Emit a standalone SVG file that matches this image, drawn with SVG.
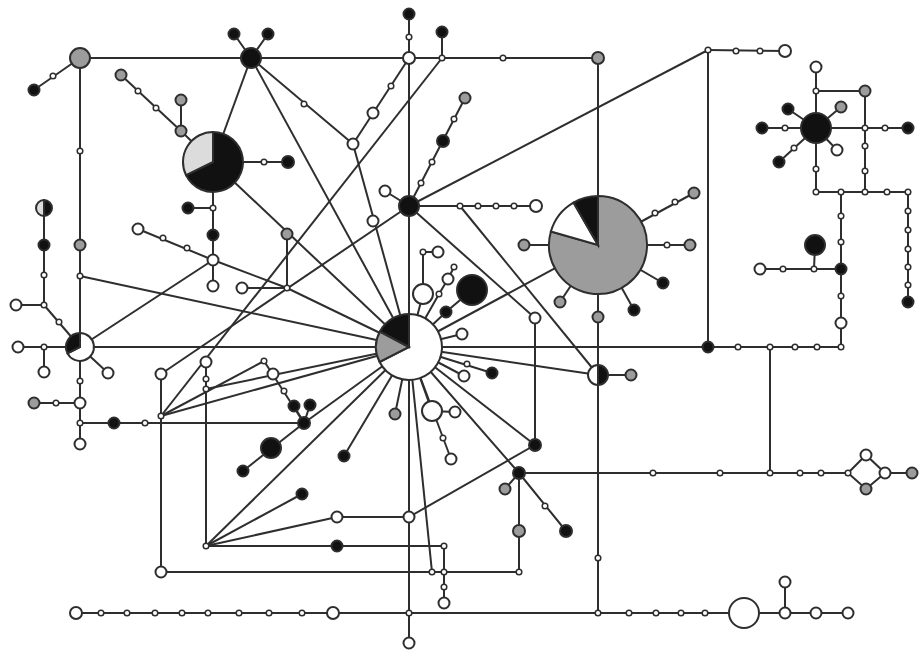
<svg xmlns="http://www.w3.org/2000/svg" width="924" height="651" viewBox="0 0 924 651">
<style>
  .e { stroke:#2e2e2e; stroke-width:2; fill:none; }
  .n { stroke:#2e2e2e; stroke-width:2; }
  .s { fill:#fff; stroke:#2e2e2e; stroke-width:1.5; }
  .w { fill:#fff; }
  .b { fill:#111; }
  .g { fill:#9c9c9c; }
  .l { fill:#dcdcdc; }
</style>
<rect width="924" height="651" fill="#fff"/>
<g id="connectors" class="e">
  <line x1="80" y1="58" x2="34" y2="90"/>
  <line x1="80" y1="58" x2="598" y2="58"/>
  <line x1="80" y1="58" x2="80" y2="444"/>
  <line x1="44" y1="208" x2="44" y2="305"/>
  <line x1="16" y1="305" x2="44" y2="305"/>
  <line x1="44" y1="305" x2="80" y2="347"/>
  <line x1="18" y1="347" x2="841" y2="347"/>
  <line x1="44" y1="347" x2="44" y2="372"/>
  <line x1="80" y1="347" x2="108" y2="373"/>
  <line x1="80" y1="347" x2="213" y2="260"/>
  <line x1="80" y1="276" x2="409" y2="347"/>
  <line x1="34" y1="403" x2="80" y2="403"/>
  <line x1="80" y1="423" x2="304" y2="423"/>
  <polyline points="121,75 181,131 213,162"/>
  <line x1="181" y1="100" x2="181" y2="131"/>
  <line x1="213" y1="162" x2="288" y2="162"/>
  <line x1="213" y1="162" x2="213" y2="286"/>
  <line x1="188" y1="208" x2="213" y2="208"/>
  <line x1="138" y1="229" x2="213" y2="260"/>
  <polyline points="213,260 287,288 409,347"/>
  <line x1="287" y1="234" x2="287" y2="288"/>
  <line x1="242" y1="288" x2="287" y2="288"/>
  <line x1="213" y1="162" x2="251" y2="58"/>
  <line x1="213" y1="162" x2="409" y2="347"/>
  <polyline points="234,34 251,58 268,34"/>
  <line x1="409" y1="14" x2="409" y2="347"/>
  <line x1="409" y1="58" x2="353" y2="144"/>
  <line x1="251" y1="58" x2="353" y2="144"/>
  <line x1="353" y1="144" x2="409" y2="347"/>
  <line x1="251" y1="58" x2="409" y2="347"/>
  <line x1="442" y1="32" x2="442" y2="58"/>
  <line x1="442" y1="58" x2="161" y2="416"/>
  <line x1="409" y1="206" x2="465" y2="98"/>
  <line x1="385" y1="191" x2="409" y2="206"/>
  <line x1="409" y1="206" x2="536" y2="206"/>
  <line x1="409" y1="206" x2="708" y2="50"/>
  <line x1="409" y1="206" x2="535" y2="318"/>
  <line x1="460" y1="206" x2="598" y2="375"/>
  <line x1="161" y1="374" x2="409" y2="206"/>
  <line x1="598" y1="58" x2="598" y2="613"/>
  <line x1="708" y1="50" x2="785" y2="51"/>
  <line x1="708" y1="50" x2="708" y2="347"/>
  <line x1="816" y1="67" x2="816" y2="192"/>
  <polyline points="816,91 865,91 865,192"/>
  <line x1="762" y1="128" x2="908" y2="128"/>
  <line x1="816" y1="128" x2="788" y2="109"/>
  <line x1="816" y1="128" x2="841" y2="107"/>
  <line x1="816" y1="128" x2="837" y2="150"/>
  <line x1="816" y1="128" x2="779" y2="162"/>
  <line x1="816" y1="192" x2="908" y2="192"/>
  <line x1="841" y1="192" x2="841" y2="347"/>
  <line x1="908" y1="192" x2="908" y2="302"/>
  <line x1="760" y1="269" x2="841" y2="269"/>
  <line x1="815" y1="245" x2="814" y2="269"/>
  <line x1="770" y1="347" x2="770" y2="473"/>
  <line x1="524" y1="245" x2="690" y2="245"/>
  <line x1="598" y1="245" x2="663" y2="283"/>
  <line x1="598" y1="245" x2="634" y2="310"/>
  <line x1="598" y1="245" x2="560" y2="302"/>
  <line x1="598" y1="245" x2="694" y2="193"/>
  <line x1="598" y1="375" x2="631" y2="375"/>
  <line x1="409" y1="347" x2="598" y2="375"/>
  <line x1="409" y1="347" x2="598" y2="245"/>
  <line x1="535" y1="318" x2="535" y2="445"/>
  <line x1="206" y1="362" x2="206" y2="546"/>
  <polyline points="161,374 161,572 519,572"/>
  <polyline points="206,546 337,517 409,517"/>
  <line x1="409" y1="517" x2="535" y2="445"/>
  <line x1="206" y1="546" x2="302" y2="494"/>
  <line x1="206" y1="546" x2="409" y2="347"/>
  <polyline points="206,546 444,546 444,603"/>
  <line x1="409" y1="347" x2="409" y2="643"/>
  <line x1="409" y1="347" x2="432" y2="572"/>
  <line x1="409" y1="347" x2="451" y2="459"/>
  <line x1="243" y1="471" x2="304" y2="423"/>
  <polyline points="294,406 304,423 310,405"/>
  <line x1="304" y1="423" x2="264" y2="361"/>
  <line x1="304" y1="423" x2="409" y2="347"/>
  <line x1="409" y1="347" x2="344" y2="456"/>
  <line x1="409" y1="347" x2="395" y2="414"/>
  <polyline points="409,347 432,411 455,412"/>
  <line x1="409" y1="347" x2="462" y2="334"/>
  <line x1="409" y1="347" x2="492" y2="373"/>
  <line x1="409" y1="347" x2="464" y2="376"/>
  <polyline points="409,347 519,473 566,531"/>
  <line x1="409" y1="347" x2="535" y2="445"/>
  <line x1="505" y1="489" x2="519" y2="473"/>
  <line x1="519" y1="473" x2="519" y2="572"/>
  <line x1="519" y1="473" x2="848" y2="473"/>
  <polygon points="848,473 866,455 885,473 866,489"/>
  <line x1="885" y1="473" x2="912" y2="473"/>
  <line x1="76" y1="613" x2="848" y2="613"/>
  <line x1="785" y1="582" x2="785" y2="613"/>
  <polyline points="409,347 446,312 472,290"/>
  <polyline points="409,347 423,294 423,252 438,252"/>
  <polyline points="409,347 439,294 448,279 454,267"/>
  <line x1="161" y1="416" x2="409" y2="347"/>
  <line x1="161" y1="416" x2="264" y2="361"/>
  <line x1="206" y1="389" x2="409" y2="347"/>
</g>

<!-- pie-chart haplotypes -->
<g id="pie-a">
  <path class="n b" d="M213,162 L213,132 A30,30 0 1 1 186,175.1 Z"/>
  <path class="n l" d="M213,162 L186,175.1 A30,30 0 0 1 213,132 Z"/>
</g>
<g id="pie-centre">
  <path class="n w" d="M409,347 L409,314 A33,33 0 1 1 379.6,362 Z"/>
  <path class="n g" d="M409,347 L379.6,362 A33,33 0 0 1 379.9,331.5 Z"/>
  <path class="n b" d="M409,347 L379.9,331.5 A33,33 0 0 1 409,314 Z"/>
</g>
<g id="pie-grey">
  <path class="n g" d="M598,245 L598,196 A49,49 0 1 1 550.9,231.5 Z"/>
  <path class="n w" d="M598,245 L550.9,231.5 A49,49 0 0 1 573.5,202.6 Z"/>
  <path class="n b" d="M598,245 L573.5,202.6 A49,49 0 0 1 598,196 Z"/>
</g>
<g id="pie-left">
  <path class="n w" d="M80,347 L80,333 A14,14 0 1 1 67.5,353.4 Z"/>
  <path class="n b" d="M80,347 L67.5,353.4 A14,14 0 0 1 80,333 Z"/>
</g>
<g id="half-a">
  <path class="n b" d="M44,208 L44,200 A8,8 0 0 1 44,216 Z"/>
  <path class="n l" d="M44,208 L44,216 A8,8 0 0 1 44,200 Z"/>
</g>
<g id="half-b">
  <path class="n b" d="M598,375 L598,365 A10,10 0 0 1 598,385 Z"/>
  <path class="n w" d="M598,375 L598,385 A10,10 0 0 1 598,365 Z"/>
</g>

<!-- large single haplotypes -->
<g id="h-g1"><circle class="n g" cx="80" cy="58" r="10"/></g>
<g id="h-b1"><circle class="n b" cx="251" cy="58" r="10"/></g>
<g id="h-b2"><circle class="n b" cx="409" cy="206" r="10"/></g>
<g id="h-b3"><circle class="n b" cx="816" cy="128" r="15"/></g>
<g id="h-b4"><circle class="n b" cx="815" cy="245" r="10"/></g>
<g id="h-b5"><circle class="n b" cx="472" cy="290" r="15"/></g>
<g id="h-b6"><circle class="n b" cx="271" cy="448" r="10"/></g>
<g id="h-w1"><circle class="n w" cx="423" cy="294" r="10"/></g>
<g id="h-w2"><circle class="n w" cx="432" cy="411" r="10"/></g>
<g id="h-w3"><circle class="n w" cx="744" cy="613" r="15"/></g>

<!-- sampled haplotypes: white -->
<g id="w01"><circle class="n w" cx="409" cy="58" r="6"/></g>
<g id="w02"><circle class="n w" cx="353" cy="144" r="5.5"/></g>
<g id="w03"><circle class="n w" cx="373" cy="113" r="5.5"/></g>
<g id="w04"><circle class="n w" cx="373" cy="221" r="5.5"/></g>
<g id="w05"><circle class="n w" cx="385" cy="191" r="5.5"/></g>
<g id="w06"><circle class="n w" cx="536" cy="206" r="6"/></g>
<g id="w07"><circle class="n w" cx="785" cy="51" r="6"/></g>
<g id="w08"><circle class="n w" cx="816" cy="67" r="5.5"/></g>
<g id="w09"><circle class="n w" cx="837" cy="150" r="5.5"/></g>
<g id="w10"><circle class="n w" cx="760" cy="269" r="5.5"/></g>
<g id="w11"><circle class="n w" cx="841" cy="323" r="5.5"/></g>
<g id="w12"><circle class="n w" cx="213" cy="260" r="5.5"/></g>
<g id="w13"><circle class="n w" cx="213" cy="286" r="5.5"/></g>
<g id="w14"><circle class="n w" cx="138" cy="229" r="5.5"/></g>
<g id="w15"><circle class="n w" cx="242" cy="288" r="5.5"/></g>
<g id="w16"><circle class="n w" cx="16" cy="305" r="5.5"/></g>
<g id="w17"><circle class="n w" cx="18" cy="347" r="5.5"/></g>
<g id="w18"><circle class="n w" cx="44" cy="372" r="5.5"/></g>
<g id="w19"><circle class="n w" cx="108" cy="373" r="5.5"/></g>
<g id="w20"><circle class="n w" cx="80" cy="403" r="5.5"/></g>
<g id="w21"><circle class="n w" cx="80" cy="444" r="5.5"/></g>
<g id="w22"><circle class="n w" cx="161" cy="374" r="5.5"/></g>
<g id="w23"><circle class="n w" cx="206" cy="362" r="5.5"/></g>
<g id="w24"><circle class="n w" cx="273" cy="374" r="5.5"/></g>
<g id="w25"><circle class="n w" cx="161" cy="572" r="5.5"/></g>
<g id="w26"><circle class="n w" cx="337" cy="517" r="5.5"/></g>
<g id="w27"><circle class="n w" cx="409" cy="517" r="5.5"/></g>
<g id="w28"><circle class="n w" cx="444" cy="603" r="5.5"/></g>
<g id="w29"><circle class="n w" cx="409" cy="643" r="5.5"/></g>
<g id="w30"><circle class="n w" cx="76" cy="613" r="6"/></g>
<g id="w31"><circle class="n w" cx="333" cy="613" r="6"/></g>
<g id="w32"><circle class="n w" cx="785" cy="613" r="5.5"/></g>
<g id="w33"><circle class="n w" cx="785" cy="582" r="5.5"/></g>
<g id="w34"><circle class="n w" cx="816" cy="613" r="5.5"/></g>
<g id="w35"><circle class="n w" cx="848" cy="613" r="5.5"/></g>
<g id="w36"><circle class="n w" cx="866" cy="455" r="5.5"/></g>
<g id="w37"><circle class="n w" cx="885" cy="473" r="5.5"/></g>
<g id="w38"><circle class="n w" cx="535" cy="318" r="5.5"/></g>
<g id="w39"><circle class="n w" cx="462" cy="334" r="5.5"/></g>
<g id="w40"><circle class="n w" cx="464" cy="376" r="5.5"/></g>
<g id="w41"><circle class="n w" cx="455" cy="412" r="5.5"/></g>
<g id="w42"><circle class="n w" cx="451" cy="459" r="5.5"/></g>
<g id="w43"><circle class="n w" cx="438" cy="252" r="5.5"/></g>
<g id="w44"><circle class="n w" cx="448" cy="279" r="5.5"/></g>

<!-- sampled haplotypes: black -->
<g id="b01"><circle class="n b" cx="34" cy="90" r="5.5"/></g>
<g id="b02"><circle class="n b" cx="234" cy="34" r="5.5"/></g>
<g id="b03"><circle class="n b" cx="268" cy="34" r="5.5"/></g>
<g id="b04"><circle class="n b" cx="409" cy="14" r="5.5"/></g>
<g id="b05"><circle class="n b" cx="442" cy="32" r="5.5"/></g>
<g id="b06"><circle class="n b" cx="443" cy="141" r="6"/></g>
<g id="b07"><circle class="n b" cx="288" cy="162" r="6"/></g>
<g id="b08"><circle class="n b" cx="188" cy="208" r="5.5"/></g>
<g id="b09"><circle class="n b" cx="213" cy="235" r="5.5"/></g>
<g id="b10"><circle class="n b" cx="44" cy="245" r="5.5"/></g>
<g id="b11"><circle class="n b" cx="114" cy="423" r="5.5"/></g>
<g id="b12"><circle class="n b" cx="304" cy="423" r="6"/></g>
<g id="b13"><circle class="n b" cx="294" cy="406" r="5.5"/></g>
<g id="b14"><circle class="n b" cx="310" cy="405" r="5.5"/></g>
<g id="b15"><circle class="n b" cx="243" cy="471" r="5.5"/></g>
<g id="b16"><circle class="n b" cx="302" cy="494" r="5.5"/></g>
<g id="b17"><circle class="n b" cx="344" cy="456" r="5.5"/></g>
<g id="b18"><circle class="n b" cx="337" cy="546" r="5.5"/></g>
<g id="b19"><circle class="n b" cx="446" cy="312" r="5.5"/></g>
<g id="b20"><circle class="n b" cx="492" cy="373" r="5.5"/></g>
<g id="b21"><circle class="n b" cx="535" cy="445" r="6"/></g>
<g id="b22"><circle class="n b" cx="519" cy="473" r="6"/></g>
<g id="b23"><circle class="n b" cx="566" cy="531" r="6"/></g>
<g id="b24"><circle class="n b" cx="663" cy="283" r="5.5"/></g>
<g id="b25"><circle class="n b" cx="634" cy="310" r="5.5"/></g>
<g id="b26"><circle class="n b" cx="708" cy="347" r="5.5"/></g>
<g id="b27"><circle class="n b" cx="762" cy="128" r="5.5"/></g>
<g id="b28"><circle class="n b" cx="788" cy="109" r="5.5"/></g>
<g id="b29"><circle class="n b" cx="779" cy="162" r="5.5"/></g>
<g id="b30"><circle class="n b" cx="908" cy="128" r="5.5"/></g>
<g id="b31"><circle class="n b" cx="841" cy="269" r="5.5"/></g>
<g id="b32"><circle class="n b" cx="908" cy="302" r="5.5"/></g>

<!-- sampled haplotypes: grey -->
<g id="g01"><circle class="n g" cx="121" cy="75" r="5.5"/></g>
<g id="g02"><circle class="n g" cx="181" cy="100" r="5.5"/></g>
<g id="g03"><circle class="n g" cx="181" cy="131" r="5.5"/></g>
<g id="g04"><circle class="n g" cx="80" cy="245" r="5.5"/></g>
<g id="g05"><circle class="n g" cx="34" cy="403" r="5.5"/></g>
<g id="g06"><circle class="n g" cx="287" cy="234" r="5.5"/></g>
<g id="g07"><circle class="n g" cx="465" cy="98" r="5.5"/></g>
<g id="g08"><circle class="n g" cx="598" cy="58" r="6"/></g>
<g id="g09"><circle class="n g" cx="694" cy="193" r="5.5"/></g>
<g id="g10"><circle class="n g" cx="524" cy="245" r="5.5"/></g>
<g id="g11"><circle class="n g" cx="690" cy="245" r="5.5"/></g>
<g id="g12"><circle class="n g" cx="560" cy="302" r="5.5"/></g>
<g id="g13"><circle class="n g" cx="598" cy="317" r="5.5"/></g>
<g id="g14"><circle class="n g" cx="631" cy="375" r="5.5"/></g>
<g id="g15"><circle class="n g" cx="395" cy="414" r="5.5"/></g>
<g id="g16"><circle class="n g" cx="505" cy="489" r="5.5"/></g>
<g id="g17"><circle class="n g" cx="519" cy="531" r="6"/></g>
<g id="g18"><circle class="n g" cx="866" cy="489" r="5.5"/></g>
<g id="g19"><circle class="n g" cx="912" cy="473" r="5.5"/></g>
<g id="g20"><circle class="n g" cx="841" cy="107" r="5.5"/></g>
<g id="g21"><circle class="n g" cx="865" cy="91" r="5.5"/></g>

<!-- median vectors (unsampled) -->
<g id="mv">
  <g id="m01"><circle class="s" cx="53" cy="76" r="2.8"/></g>
  <g id="m02"><circle class="s" cx="80" cy="151" r="2.8"/></g>
  <g id="m03"><circle class="s" cx="80" cy="276" r="2.8"/></g>
  <g id="m04"><circle class="s" cx="44" cy="275" r="2.8"/></g>
  <g id="m05"><circle class="s" cx="44" cy="305" r="2.8"/></g>
  <g id="m06"><circle class="s" cx="59" cy="322" r="2.8"/></g>
  <g id="m07"><circle class="s" cx="44" cy="347" r="2.8"/></g>
  <g id="m08"><circle class="s" cx="80" cy="381" r="2.8"/></g>
  <g id="m09"><circle class="s" cx="56" cy="403" r="2.8"/></g>
  <g id="m10"><circle class="s" cx="80" cy="423" r="2.8"/></g>
  <g id="m11"><circle class="s" cx="145" cy="423" r="2.8"/></g>
  <g id="m12"><circle class="s" cx="138" cy="91" r="2.8"/></g>
  <g id="m13"><circle class="s" cx="156" cy="108" r="2.8"/></g>
  <g id="m14"><circle class="s" cx="264" cy="162" r="2.8"/></g>
  <g id="m15"><circle class="s" cx="213" cy="208" r="2.8"/></g>
  <g id="m16"><circle class="s" cx="187" cy="248" r="2.8"/></g>
  <g id="m17"><circle class="s" cx="163" cy="238" r="2.8"/></g>
  <g id="m18"><circle class="s" cx="287" cy="288" r="2.8"/></g>
  <g id="m19"><circle class="s" cx="304" cy="104" r="2.8"/></g>
  <g id="m20"><circle class="s" cx="391" cy="86" r="2.8"/></g>
  <g id="m21"><circle class="s" cx="409" cy="37" r="2.8"/></g>
  <g id="m22"><circle class="s" cx="442" cy="58" r="2.8"/></g>
  <g id="m23"><circle class="s" cx="503" cy="58" r="2.8"/></g>
  <g id="m24"><circle class="s" cx="421" cy="183" r="2.8"/></g>
  <g id="m25"><circle class="s" cx="432" cy="162" r="2.8"/></g>
  <g id="m26"><circle class="s" cx="454" cy="119" r="2.8"/></g>
  <g id="m27"><circle class="s" cx="460" cy="206" r="2.8"/></g>
  <g id="m28"><circle class="s" cx="478" cy="206" r="2.8"/></g>
  <g id="m29"><circle class="s" cx="496" cy="206" r="2.8"/></g>
  <g id="m30"><circle class="s" cx="514" cy="206" r="2.8"/></g>
  <g id="m31"><circle class="s" cx="708" cy="50" r="2.8"/></g>
  <g id="m32"><circle class="s" cx="736" cy="51" r="2.8"/></g>
  <g id="m33"><circle class="s" cx="760" cy="51" r="2.8"/></g>
  <g id="m34"><circle class="s" cx="816" cy="91" r="2.8"/></g>
  <g id="m35"><circle class="s" cx="785" cy="128" r="2.8"/></g>
  <g id="m36"><circle class="s" cx="865" cy="128" r="2.8"/></g>
  <g id="m37"><circle class="s" cx="885" cy="128" r="2.8"/></g>
  <g id="m38"><circle class="s" cx="865" cy="146" r="2.8"/></g>
  <g id="m39"><circle class="s" cx="865" cy="171" r="2.8"/></g>
  <g id="m40"><circle class="s" cx="794" cy="148" r="2.8"/></g>
  <g id="m41"><circle class="s" cx="816" cy="169" r="2.8"/></g>
  <g id="m42"><circle class="s" cx="816" cy="192" r="2.8"/></g>
  <g id="m43"><circle class="s" cx="841" cy="192" r="2.8"/></g>
  <g id="m44"><circle class="s" cx="865" cy="192" r="2.8"/></g>
  <g id="m45"><circle class="s" cx="887" cy="192" r="2.8"/></g>
  <g id="m46"><circle class="s" cx="908" cy="192" r="2.8"/></g>
  <g id="m47"><circle class="s" cx="908" cy="211" r="2.8"/></g>
  <g id="m48"><circle class="s" cx="908" cy="230" r="2.8"/></g>
  <g id="m49"><circle class="s" cx="908" cy="249" r="2.8"/></g>
  <g id="m50"><circle class="s" cx="908" cy="267" r="2.8"/></g>
  <g id="m51"><circle class="s" cx="908" cy="285" r="2.8"/></g>
  <g id="m52"><circle class="s" cx="841" cy="216" r="2.8"/></g>
  <g id="m53"><circle class="s" cx="841" cy="242" r="2.8"/></g>
  <g id="m54"><circle class="s" cx="841" cy="296" r="2.8"/></g>
  <g id="m55"><circle class="s" cx="841" cy="347" r="2.8"/></g>
  <g id="m56"><circle class="s" cx="783" cy="269" r="2.8"/></g>
  <g id="m57"><circle class="s" cx="814" cy="269" r="2.8"/></g>
  <g id="m58"><circle class="s" cx="738" cy="347" r="2.8"/></g>
  <g id="m59"><circle class="s" cx="770" cy="347" r="2.8"/></g>
  <g id="m60"><circle class="s" cx="795" cy="347" r="2.8"/></g>
  <g id="m61"><circle class="s" cx="817" cy="347" r="2.8"/></g>
  <g id="m62"><circle class="s" cx="655" cy="213" r="2.8"/></g>
  <g id="m63"><circle class="s" cx="675" cy="202" r="2.8"/></g>
  <g id="m64"><circle class="s" cx="667" cy="245" r="2.8"/></g>
  <g id="m65"><circle class="s" cx="206" cy="379" r="2.8"/></g>
  <g id="m66"><circle class="s" cx="206" cy="389" r="2.8"/></g>
  <g id="m67"><circle class="s" cx="161" cy="416" r="2.8"/></g>
  <g id="m68"><circle class="s" cx="206" cy="546" r="2.8"/></g>
  <g id="m69"><circle class="s" cx="264" cy="361" r="2.8"/></g>
  <g id="m70"><circle class="s" cx="284" cy="391" r="2.8"/></g>
  <g id="m71"><circle class="s" cx="444" cy="546" r="2.8"/></g>
  <g id="m72"><circle class="s" cx="444" cy="572" r="2.8"/></g>
  <g id="m73"><circle class="s" cx="444" cy="587" r="2.8"/></g>
  <g id="m74"><circle class="s" cx="432" cy="572" r="2.8"/></g>
  <g id="m75"><circle class="s" cx="519" cy="572" r="2.8"/></g>
  <g id="m76"><circle class="s" cx="443" cy="438" r="2.8"/></g>
  <g id="m77"><circle class="s" cx="467" cy="364" r="2.8"/></g>
  <g id="m78"><circle class="s" cx="545" cy="506" r="2.8"/></g>
  <g id="m79"><circle class="s" cx="598" cy="558" r="2.8"/></g>
  <g id="m80"><circle class="s" cx="653" cy="473" r="2.8"/></g>
  <g id="m81"><circle class="s" cx="720" cy="473" r="2.8"/></g>
  <g id="m82"><circle class="s" cx="770" cy="473" r="2.8"/></g>
  <g id="m83"><circle class="s" cx="800" cy="473" r="2.8"/></g>
  <g id="m84"><circle class="s" cx="821" cy="473" r="2.8"/></g>
  <g id="m85"><circle class="s" cx="848" cy="473" r="2.8"/></g>
  <g id="m86"><circle class="s" cx="101" cy="613" r="2.8"/></g>
  <g id="m87"><circle class="s" cx="127" cy="613" r="2.8"/></g>
  <g id="m88"><circle class="s" cx="155" cy="613" r="2.8"/></g>
  <g id="m89"><circle class="s" cx="182" cy="613" r="2.8"/></g>
  <g id="m90"><circle class="s" cx="208" cy="613" r="2.8"/></g>
  <g id="m91"><circle class="s" cx="239" cy="613" r="2.8"/></g>
  <g id="m92"><circle class="s" cx="269" cy="613" r="2.8"/></g>
  <g id="m93"><circle class="s" cx="302" cy="613" r="2.8"/></g>
  <g id="m94"><circle class="s" cx="409" cy="613" r="2.8"/></g>
  <g id="m95"><circle class="s" cx="598" cy="613" r="2.8"/></g>
  <g id="m96"><circle class="s" cx="629" cy="613" r="2.8"/></g>
  <g id="m97"><circle class="s" cx="656" cy="613" r="2.8"/></g>
  <g id="m98"><circle class="s" cx="681" cy="613" r="2.8"/></g>
  <g id="m99"><circle class="s" cx="705" cy="613" r="2.8"/></g>
  <g id="m100"><circle class="s" cx="423" cy="252" r="2.8"/></g>
  <g id="m101"><circle class="s" cx="439" cy="294" r="2.8"/></g>
  <g id="m102"><circle class="s" cx="454" cy="267" r="2.8"/></g>
</g>
</svg>
